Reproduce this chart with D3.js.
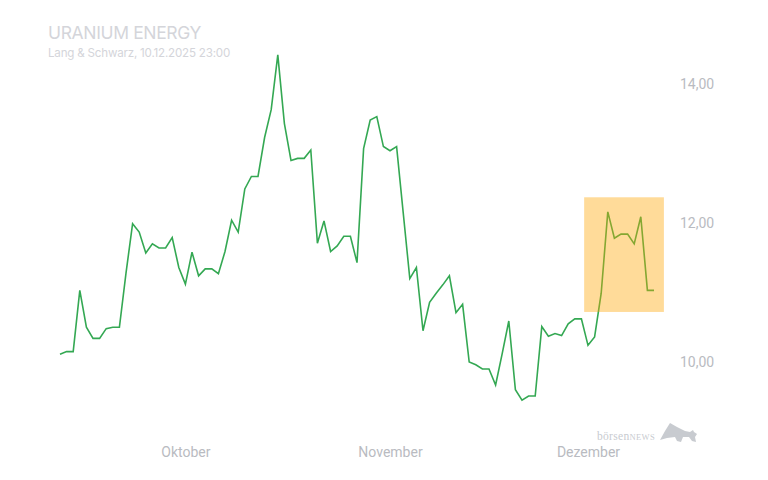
<!DOCTYPE html>
<html>
<head>
<meta charset="utf-8">
<script src="https://cdn.jsdelivr.net/npm/d3@7"></script>
<style>
  html, body { margin: 0; padding: 0; background: #ffffff; }
  svg { display: block; }
</style>
</head>
<body>
<svg id="chart" width="768" height="480"></svg>
<script>
// ---- data ----
const title = "URANIUM ENERGY";
const subtitle = "Lang & Schwarz, 10.12.2025 23:00";
const startDate = "2025-09-12";
const prices = [
  10.11, 10.15, 10.15, 11.03, 10.50, 10.34, 10.34, 10.48, 10.50, 10.50,
  11.28, 11.99, 11.87, 11.57, 11.70, 11.64, 11.64, 11.79, 11.36, 11.12,
  11.58, 11.24, 11.34, 11.34, 11.27, 11.59, 12.04, 11.87, 12.49, 12.67,
  12.67, 13.23, 13.63, 14.42, 13.43, 12.90, 12.93, 12.93, 13.05, 11.71,
  12.03, 11.59, 11.67, 11.81, 11.81, 11.43, 13.07, 13.48, 13.53, 13.10,
  13.04, 13.10, 12.15, 11.20, 11.36, 10.45, 10.86, 10.99, 11.11, 11.24,
  10.71, 10.83, 10.00, 9.96, 9.90, 9.90, 9.67, 10.12, 10.59, 9.60,
  9.45, 9.51, 9.51, 10.51, 10.37, 10.41, 10.38, 10.55, 10.62, 10.62,
  10.24, 10.36, 10.99, 12.16, 11.78, 11.84, 11.84, 11.70, 12.09, 11.03,
  11.03
];
const monthTicks = ["2025-10-01", "2025-11-01", "2025-12-01"];
const monthLabels = ["Oktober", "November", "Dezember"];
const yTicks = [10, 12, 14];
const highlightDates = ["2025-11-30T10:00", "2025-12-12T12:00"];
const highlightValues = [10.72, 12.37];
const logoParts = ["börsen", "NEWS"];

// ---- build ----
const parse = d3.isoParse;
const start = parse(startDate + "T00:00");
const series = prices.map((v, i) => ({ date: d3.timeDay.offset(start, i), value: v }));

const svg = d3.select("#chart");
const x = d3.scaleTime()
  .domain([series[0].date, series[series.length - 1].date])
  .range([60, 654]);
const y = d3.scaleLinear().domain([10, 14]).range([362, 84]);

const de = d3.formatLocale({ decimal: ",", thousands: ".", grouping: [3], currency: ["", " €"] });
const fmt = de.format(".2f");

// title
svg.append("text")
  .attr("x", 48).attr("y", 39)
  .attr("font-family", "Inter, 'Noto Sans', sans-serif")
  .attr("font-size", 17.5)
  .attr("letter-spacing", -0.35)
  .attr("fill", "#d4d5da")
  .text(title);
svg.append("text")
  .attr("x", 48).attr("y", 57)
  .attr("font-family", "Inter, 'Noto Sans', sans-serif")
  .attr("font-size", 11.6)
  .attr("letter-spacing", -0.2)
  .attr("fill", "#d4d5da")
  .text(subtitle);

// y axis (right)
const yAxis = d3.axisRight(y).tickValues(yTicks).tickFormat(fmt).tickSize(0).tickPadding(0);
const gy = svg.append("g").attr("transform", "translate(680,0)").call(yAxis);
gy.select(".domain").remove();
gy.selectAll("text")
  .attr("font-family", "Roboto, sans-serif")
  .attr("font-size", 14)
  .attr("fill", "#b9bbc1");

// x axis
const xAxis = d3.axisBottom(x)
  .tickValues(monthTicks.map(d => parse(d + "T00:00")))
  .tickFormat((d, i) => monthLabels[i])
  .tickSize(0).tickPadding(0);
const gx = svg.append("g").attr("transform", "translate(0,457)").call(xAxis);
gx.select(".domain").remove();
gx.selectAll("text")
  .attr("dy", 0)
  .attr("font-family", "Roboto, sans-serif")
  .attr("font-size", 14)
  .attr("fill", "#b9bbc1");

// line
const line = d3.line().x(d => x(d.date)).y(d => y(d.value));
svg.append("path")
  .datum(series)
  .attr("d", line)
  .attr("fill", "none")
  .attr("stroke", "#34a853")
  .attr("stroke-width", 1.6)
  .attr("stroke-linejoin", "miter");

// highlight box
const hx0 = x(parse(highlightDates[0])), hx1 = x(parse(highlightDates[1]));
const hy0 = y(highlightValues[1]), hy1 = y(highlightValues[0]);
svg.append("rect")
  .attr("x", hx0).attr("y", hy0)
  .attr("width", hx1 - hx0).attr("height", hy1 - hy0)
  .attr("fill", "#ffa500")
  .attr("fill-opacity", 0.4);

// logo
const logo = svg.append("g").attr("transform", "translate(597,440)");
const lt = logo.append("text")
  .attr("x", 0).attr("y", 0)
  .attr("font-family", "'Liberation Serif', 'DejaVu Serif', serif")
  .attr("fill", "#c8cbd0");
lt.append("tspan").attr("font-size", 11.5).attr("letter-spacing", 0.3).text(logoParts[0]);
lt.append("tspan").attr("font-size", 8.5).attr("letter-spacing", 0.4).text(logoParts[1]);
logo.append("path")
  .attr("d", "M63,0 L68,-9 L73,-17 L80,-13 L88,-9 L93,-8 L96,-10 L97,-8 L100,-6 L98,-3 L99,2 L95,1 L92,-3 L86,-3 L84,2 L80,1 L78,-3 L70,-2 Z")
  .attr("fill", "#c8cbd0");
</script>
</body>
</html>
